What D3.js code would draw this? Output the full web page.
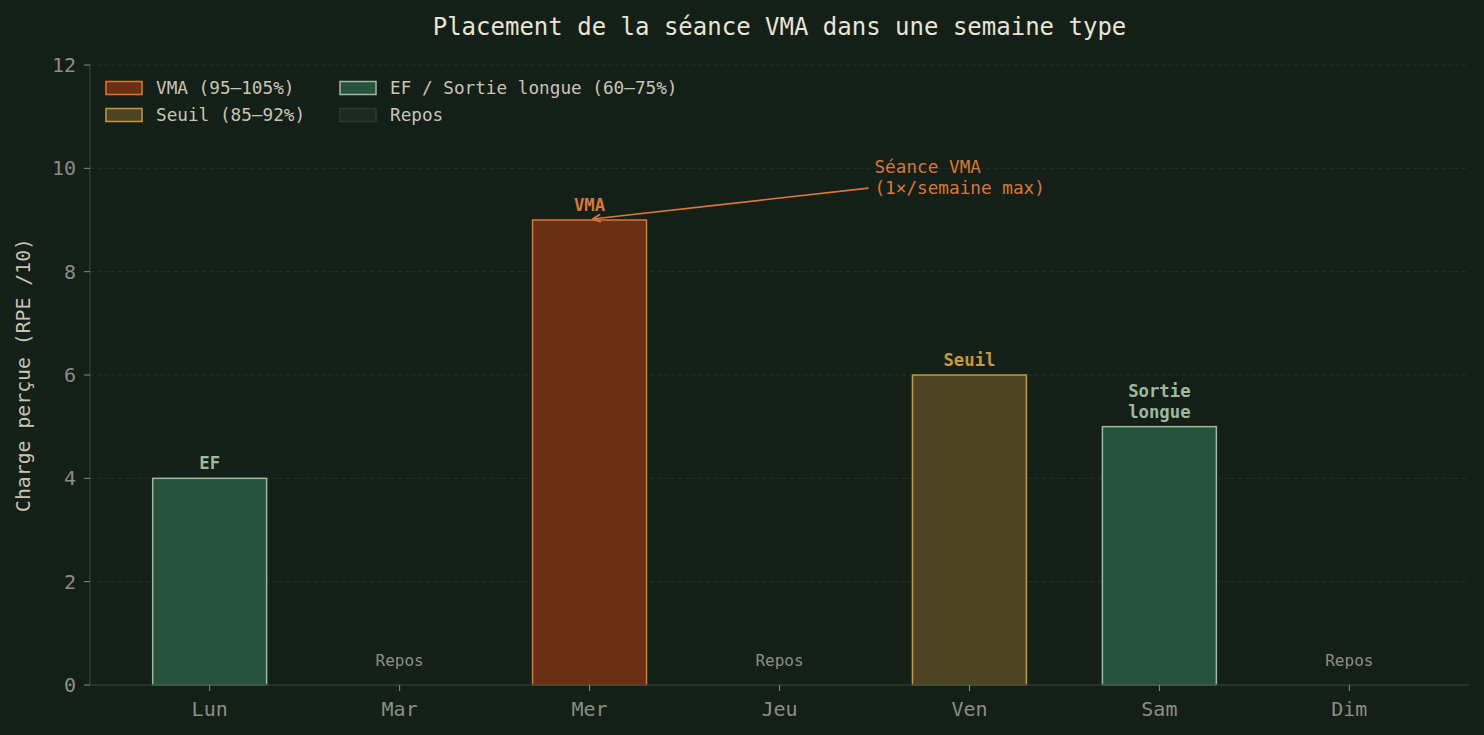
<!DOCTYPE html>
<html><head><meta charset="utf-8">
<script src="https://cdn.jsdelivr.net/npm/d3@7"></script>
<style>
html,body{margin:0;padding:0;background:#141f18;}
svg{display:block;font-family:"DejaVu Sans Mono",monospace;}
</style></head><body>
<svg id="c" width="1484" height="735"></svg>
<script>
const days = ["Lun","Mar","Mer","Jeu","Ven","Sam","Dim"];
const charge = [4,0,9,0,6,5,0];
const types = ["EF","Repos","VMA","Repos","Seuil","EF","Repos"];
const barLabels = [["EF"],["Repos"],["VMA"],["Repos"],["Seuil"],["Sortie","longue"],["Repos"]];
const yTicks = [0,2,4,6,8,10,12];
const legendItems = [
  {key:"VMA", label:"VMA (95–105%)"},
  {key:"Seuil", label:"Seuil (85–92%)"},
  {key:"EF", label:"EF / Sortie longue (60–75%)"},
  {key:"Repos", label:"Repos"}
];
const annotationLines = ["Séance VMA","(1×/semaine max)"];
const annotationXY = [2, 9];
const annotationText = [3.5, 9.5];

const style = {
  VMA:{fill:"#6b2f14", stroke:"#d9783a", text:"#d9783a"},
  Seuil:{fill:"#4d4423", stroke:"#c49a3e", text:"#c49a3e"},
  EF:{fill:"#27523b", stroke:"#9fb8a0", text:"#9fb8a0"},
  Repos:{fill:"#1c2b22", stroke:"#2b3b31", text:"#8a8f86"}
};

const svg = d3.select("#c");
const L=90, R=1469, T=65, B=685;
const x = d3.scaleLinear().domain([-0.63, 6.63]).range([L, R]);
const y = d3.scaleLinear().domain([0, 12]).range([B, T]);
const bw = 0.6;

// grid
svg.append("g").selectAll("line").data(yTicks.filter(d=>d>0)).join("line")
  .attr("x1",L).attr("x2",R).attr("y1",d=>y(d)).attr("y2",d=>y(d))
  .attr("stroke","#22322a").attr("stroke-width",1).attr("stroke-dasharray","4,3");

// bars
svg.append("g").selectAll("rect").data(days.map((d,i)=>({i,v:charge[i],t:types[i]})).filter(d=>d.v>0)).join("rect")
  .attr("x",d=>x(d.i-bw/2)).attr("width",d=>x(bw)-x(0))
  .attr("y",d=>y(d.v)).attr("height",d=>y(0)-y(d.v))
  .attr("fill",d=>style[d.t].fill).attr("stroke",d=>style[d.t].stroke).attr("stroke-width",1.5);

// bar labels
days.forEach((d,i)=>{
  const t = types[i];
  const lines = barLabels[i];
  if (t==="Repos"){
    svg.append("text").attr("x",x(i)).attr("y",y(0.5)+7).attr("text-anchor","middle")
      .attr("font-size",16).attr("fill",style.Repos.text).text(lines[0]);
  } else {
    const base = y(charge[i]) - 9;
    lines.forEach((ln,k)=>{
      svg.append("text").attr("x",x(i)).attr("y",base-(lines.length-1-k)*21).attr("text-anchor","middle")
        .attr("font-size",17.3).attr("font-weight","bold").attr("fill",style[t].text).text(ln);
    });
  }
});

// axes spines
svg.append("line").attr("x1",L).attr("x2",L).attr("y1",T).attr("y2",B).attr("stroke","#2c3d33").attr("stroke-width",1.5);
svg.append("line").attr("x1",L).attr("x2",R).attr("y1",B).attr("y2",B).attr("stroke","#2c3d33").attr("stroke-width",1.5);

// y ticks
const yt = svg.append("g");
yTicks.forEach(v=>{
  yt.append("line").attr("x1",L-6).attr("x2",L).attr("y1",y(v)).attr("y2",y(v)).attr("stroke","#8a8f86").attr("stroke-width",1);
  yt.append("text").attr("x",L-14).attr("y",y(v)+7).attr("text-anchor","end").attr("font-size",20).attr("fill","#8a8f86").text(v);
});
// x ticks
const xt = svg.append("g");
days.forEach((d,i)=>{
  xt.append("line").attr("x1",x(i)).attr("x2",x(i)).attr("y1",B).attr("y2",B+6).attr("stroke","#8a8f86").attr("stroke-width",1);
  xt.append("text").attr("x",x(i)).attr("y",B+31).attr("text-anchor","middle").attr("font-size",20).attr("fill","#8a8f86").text(d);
});

// y label
svg.append("text").attr("transform",`translate(30,${(T+B)/2}) rotate(-90)`).attr("text-anchor","middle")
  .attr("font-size",19.8).attr("fill","#c8c4b6").text("Charge perçue (RPE /10)");

// title
svg.append("text").attr("x",(L+R)/2).attr("y",35).attr("text-anchor","middle")
  .attr("font-size",24).attr("fill","#e8e4d6").text("Placement de la séance VMA dans une semaine type");

// legend
const lg = svg.append("g");
const colX = [106, 340], rowY = [88, 115];
legendItems.forEach((it,k)=>{
  const cx = colX[Math.floor(k/2)], cy = rowY[k%2];
  lg.append("rect").attr("x",cx).attr("y",cy-6.5).attr("width",36).attr("height",13)
    .attr("fill",style[it.key].fill).attr("stroke",style[it.key].stroke).attr("stroke-width",1.5);
  lg.append("text").attr("x",cx+50).attr("y",cy+6).attr("font-size",17.7).attr("fill","#c8c4b6").text(it.label);
});

// annotation
const ax = x(annotationText[0]), ay = y(annotationText[1]);
annotationLines.forEach((ln,k)=>{
  svg.append("text").attr("x",ax).attr("y",ay-(annotationLines.length-1-k)*21)
    .attr("font-size",17.7).attr("fill","#d9783a").text(ln);
});
const sx = ax-6, sy = ay-6;
const ex = x(annotationXY[0])+3, ey = y(annotationXY[1])-1;
svg.append("line").attr("x1",sx).attr("y1",sy).attr("x2",ex).attr("y2",ey).attr("stroke","#d9783a").attr("stroke-width",1.6);
const ang = Math.atan2(sy-ey, sx-ex);
[0.45,-0.45].forEach(a=>{
  svg.append("line").attr("x1",ex).attr("y1",ey)
    .attr("x2",ex+9*Math.cos(ang+a)).attr("y2",ey+9*Math.sin(ang+a))
    .attr("stroke","#d9783a").attr("stroke-width",1.6);
});
</script>
</body></html>
